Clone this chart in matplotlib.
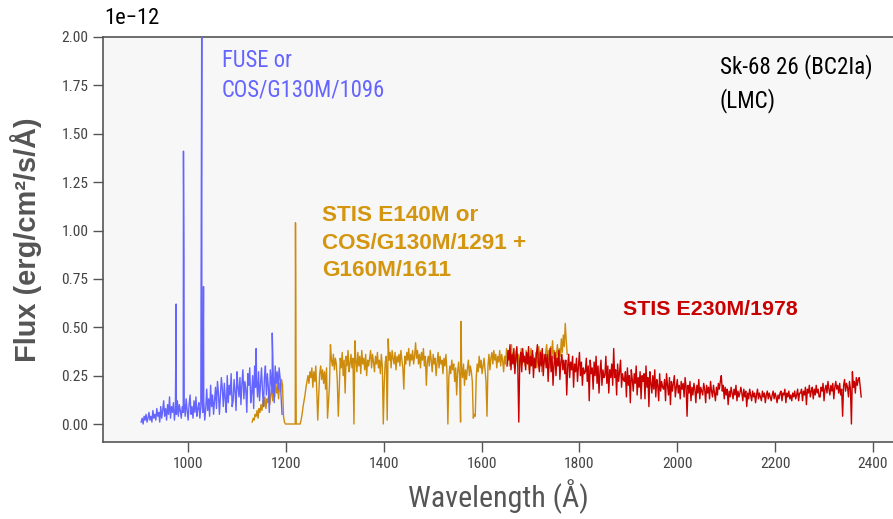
import os
import numpy as np
import matplotlib
matplotlib.use("Agg")
import matplotlib.pyplot as plt
from matplotlib import font_manager as fm
from matplotlib.font_manager import FontProperties

# fluxes below are in units of 1e-14 erg/cm2/s/A

# FUSE / COS G130M/1096 segment, 2 A sampling from 904 A
fuse_start, fuse_step = 904.0, 2.0
fuse_flux = [
    1, 3, 0, 4, 2, 5, 1, 3, 6, 2, 4, 1, 7, 3, 5,
    2, 8, 4, 6, 1, 9, 3, 7, 12, 4, 8, 2, 10, 5, 14,
    3, 9, 6, 11, 2, 8, 5, 12, 4, 10, 7, 3, 9, 6, 11,
    4, 13, 7, 2, 10, 15, 5, 9, 3, 12, 6, 14, 4, 8, 11,
    3, 9, 16, 6, 12, 2, 8, 18, 7, 13, 4, 20, 9, 15, 5,
    12, 19, 8, 22, 16, 5, 14, 24, 18, 9, 21, 13, 6, 25, 11,
    20, 15, 26, 9, 12, 23, 17, 7, 27, 19, 14, 24, 10, 21, 28,
    13, 22, 18, 6, 26, 20, 29, 11, 16, 25, 8, 30, 19, 23, 14,
    27, 12, 21, 29, 17, 9, 24, 30, 15, 26, 19, 6, 28, 22, 16,
    25, 11, 30, 21, 27, 18, 29, 24, 14, 5,
]
fuse_line_wl = [975.5, 990.5, 991.5, 1028.0, 1031.5, 1139.0, 1172.0]
fuse_line_flux = [62, 141, 85, 230, 71, 39, 47]

# STIS E140M / COS G130M+G160M segment, 2 A sampling from 1131 A
stis_fuv_start, stis_fuv_step = 1131.0, 2.0
stis_fuv_flux = [
    1, 3, 2, 5, 4, 7, 3, 8, 6, 10, 7, 12, 9, 14, 8, 13, 11, 16, 10, 15,
    18, 12, 20, 14, 22, 16, 19, 13, 21, 17, 23, 20, 4, 1, 0, 0, 0, 0, 0, 0,
    0, 0, 0, 0, 0, 0, 0, 0, 0, 0, 2, 5, 9, 12, 15, 19, 22, 25, 21, 27,
    24, 29, 19, 27, 22, 30, 17, 2, 15, 26, 30, 23, 28, 21, 27, 18, 29, 3, 12, 20,
    41, 33, 30, 36, 28, 34, 31, 22, 4, 18, 34, 29, 37, 25, 33, 16, 35, 30, 38, 27,
    31, 36, 29, 34, 0, 43, 33, 27, 37, 30, 35, 26, 38, 31, 34, 28, 36, 25, 33, 30,
    34, 38, 29, 36, 32, 27, 35, 31, 37, 29, 33, 26, 36, 30, 0, 22, 32, 35, 2, 44,
    33, 37, 29, 38, 34, 31, 37, 28, 35, 32, 36, 30, 38, 33, 29, 18, 35, 31, 37, 33,
    39, 30, 36, 33, 38, 31, 35, 42, 34, 38, 31, 36, 29, 37, 33, 39, 30, 35, 20, 32,
    35, 30, 38, 33, 27, 36, 31, 34, 25, 32, 37, 29, 35, 31, 33, 26, 34, 30, 36, 28,
    0, 24, 30, 26, 33, 28, 31, 22, 29, 15, 27, 32, 25, 1, 30, 24, 31, 20, 28, 23,
    29, 33, 25, 30, 27, 22, 3, 5, 4, 24, 31, 27, 35, 29, 33, 26, 30, 34, 28, 22,
    4, 30, 36, 28, 34, 37, 31, 38, 33, 36, 29, 35, 32, 38, 30, 36, 33, 27, 35, 31,
    39, 34, 38, 30, 36, 41, 33, 37, 29, 35, 38, 32, 36, 28, 34, 39, 31, 36, 33, 30,
    38, 32, 36, 28, 34, 39, 31, 36, 33, 30, 37, 29, 35, 40, 32, 38, 27, 34, 36, 31,
    37, 41, 33, 38, 29, 40, 35, 43, 34, 38, 30, 36, 41, 33, 39, 35, 44, 37, 46, 40,
    52, 43, 36,
]
stis_fuv_line_wl = [1219.5, 1558.0]
stis_fuv_line_flux = [104, 53]

# STIS E230M/1978 segment, 2 A sampling from 1652 A
stis_nuv_start, stis_nuv_step = 1652.0, 2.0
stis_nuv_flux = [
    30, 38, 33, 41, 28, 36, 31, 39, 26, 34, 40, 29, 1, 33, 37, 27, 39, 32, 35, 28,
    37, 31, 40, 26, 35, 30, 38, 24, 34, 29, 36, 41, 32, 27, 37, 30, 39, 25, 33, 36,
    29, 36, 22, 33, 39, 27, 35, 20, 31, 37, 25, 34, 30, 38, 23, 32, 36, 28, 33, 26,
    33, 15, 30, 36, 24, 32, 28, 35, 19, 31, 27, 34, 22, 30, 37, 25, 32, 20, 29, 26,
    27, 34, 22, 30, 12, 33, 26, 29, 18, 32, 25, 35, 21, 30, 16, 27, 33, 20, 28, 24,
    25, 35, 21, 30, 16, 28, 24, 31, 20, 39, 24, 28, 15, 31, 22, 27, 33, 19, 26, 23,
    22, 27, 14, 29, 20, 25, 11, 28, 23, 17, 26, 21, 30, 15, 24, 19, 27, 13, 25, 22,
    26, 13, 30, 19, 24, 9, 27, 21, 16, 25, 18, 28, 14, 23, 20, 12, 26, 17, 22, 19,
    18, 23, 12, 26, 20, 15, 24, 10, 22, 17, 21, 25, 14, 19, 23, 16, 20, 13, 22, 18,
    21, 14, 24, 19, 4, 20, 16, 22, 12, 19, 15, 21, 18, 11, 20, 16, 23, 13, 19, 17,
    15, 21, 18, 11, 20, 16, 19, 13, 22, 17, 14, 20, 16, 12, 19, 15, 21, 18, 22, 25,
    17, 20, 13, 19, 15, 18, 10, 17, 14, 19, 16, 13, 18, 15, 20, 12, 17, 14, 16, 19,
    16, 12, 18, 14, 17, 9, 16, 13, 18, 15, 12, 17, 14, 16, 11, 15, 18, 13, 16, 14,
    12, 17, 14, 16, 11, 15, 17, 13, 16, 14, 12, 15, 17, 13, 16, 14, 11, 15, 13, 16,
    17, 12, 16, 15, 18, 11, 16, 14, 17, 13, 15, 12, 16, 14, 17, 13, 15, 18, 12, 16,
    16, 18, 12, 17, 15, 19, 10, 18, 16, 20, 14, 17, 19, 13, 18, 15, 20, 16, 18, 14,
    14, 19, 17, 21, 12, 18, 20, 16, 22, 18, 15, 20, 17, 21, 13, 19, 22, 18, 20, 16,
    21, 15, 18, 4, 20, 23, 17, 21, 19, 14, 22, 18, 0, 27, 19, 22, 16, 24, 20, 23,
    24, 19, 14,
]

x_ticks = [1000, 1200, 1400, 1600, 1800, 2000, 2200, 2400]
y_ticks = [0.0, 0.25, 0.5, 0.75, 1.0, 1.25, 1.5, 1.75, 2.0]

BLUE = "#6464ff"
GOLD = "#cd8b0c"
RED = "#c80000"
GRAY = "#555555"
BOLD = ["Liberation Sans", "DejaVu Sans"]


def find_narrow():
    # a condensed regular face, if one is installed
    hits = []
    for f in fm.fontManager.ttflist:
        base = os.path.basename(f.fname)
        if not ("Narrow" in base or "Condensed" in base or "Cond" in base):
            continue
        if any(k in base for k in ("Bold", "Italic", "Oblique", "Light", "Thin", "Black", "Medium")):
            continue
        rank = 0 if "Liberation" in base else (1 if "Roboto" in base else 2)
        hits.append((rank, f.fname))
    return sorted(hits)[0][1] if hits else None


NARROW_FILE = find_narrow()


def narrow(size):
    if NARROW_FILE:
        return FontProperties(fname=NARROW_FILE, size=size)
    return FontProperties(family="DejaVu Sans", size=size)


def segment(start, step, flux, line_wl=(), line_flux=()):
    wl = start + step * np.arange(len(flux))
    wl = np.concatenate([wl, line_wl])
    fl = np.concatenate([flux, line_flux]).astype(float)
    order = np.argsort(wl)
    return wl[order], fl[order] * 1e-14


def fit(fig, txt, px, along="width"):
    fig.canvas.draw()
    bb = txt.get_window_extent()
    cur = bb.width if along == "width" else bb.height
    if cur > 0:
        txt.set_fontsize(txt.get_fontsize() * px / cur)


fig = plt.figure(figsize=(8.93, 5.19), dpi=100)
ax = fig.add_axes([103 / 893, 1 - 442 / 519, 1 - 103 / 893, (442 - 37) / 519])
ax.set_facecolor("#f7f7f7")

wl, fl = segment(stis_fuv_start, stis_fuv_step, stis_fuv_flux, stis_fuv_line_wl, stis_fuv_line_flux)
ax.plot(wl, fl, color=GOLD, lw=1.0, zorder=2)
wl, fl = segment(fuse_start, fuse_step, fuse_flux, fuse_line_wl, fuse_line_flux)
ax.plot(wl, fl, color=BLUE, lw=1.0, zorder=3)
wl, fl = segment(stis_nuv_start, stis_nuv_step, stis_nuv_flux)
ax.plot(wl, fl, color=RED, lw=1.0, zorder=4)

ax.set_xlim(826, 2441)
ax.set_ylim(-0.093e-12, 2.0e-12)
ax.set_xticks(x_ticks)
ax.set_yticks([v * 1e-12 for v in y_ticks])

for side in ["left", "bottom", "top"]:
    ax.spines[side].set_color(GRAY)
    ax.spines[side].set_linewidth(1.2)
ax.spines["right"].set_visible(False)
ax.tick_params(length=7, width=1, color=GRAY, labelcolor="#444444")
for lab in ax.get_xticklabels() + ax.get_yticklabels():
    lab.set_fontproperties(narrow(13))
ax.yaxis.get_offset_text().set_visible(False)
t_off = fig.text(104 / 893, 1 - 8 / 519, "1e\u221212", color="black",
                 fontproperties=narrow(19), va="top", ha="left")

xl = ax.set_xlabel("Wavelength (Å)", color=GRAY, labelpad=6)
xl.set_fontproperties(narrow(24))
yl = ax.set_ylabel("Flux (erg/cm²/s/Å)", fontsize=18, color=GRAY, fontweight="bold",
                   family=BOLD, labelpad=14)

t_fuse = ax.text(1069, 1.94e-12, "FUSE or\nCOS/G130M/1096", color=BLUE,
                 fontproperties=narrow(19), va="top", linespacing=1.4)
t_e140 = ax.text(1274, 1.13e-12, "STIS E140M or\nCOS/G130M/1291 +\nG160M/1611",
                 color="#d4950f", fontsize=13, fontweight="bold", family=BOLD,
                 va="top", linespacing=1.4)
t_e230 = ax.text(1889, 0.59e-12, "STIS E230M/1978", color=RED, fontsize=13,
                 fontweight="bold", family=BOLD, va="center")
t_star = ax.text(2087, 1.91e-12, "Sk-68 26 (BC2Ia)\n(LMC)", color="black",
                 fontproperties=narrow(17), va="top", linespacing=1.45)

fit(fig, t_fuse, 164)
fit(fig, t_star, 152)
fit(fig, xl, 181)
fit(fig, t_off, 55)
fit(fig, t_e140, 204)
fit(fig, t_e230, 175)
fit(fig, yl, 245, along="height")
fig.canvas.draw()
w = ax.get_yticklabels()[-1].get_window_extent().width
if w > 0:
    s = ax.get_yticklabels()[-1].get_fontsize() * 27 / w
    for lab in ax.get_xticklabels() + ax.get_yticklabels():
        lab.set_fontsize(s)

fig.savefig("out.png", dpi=100)
